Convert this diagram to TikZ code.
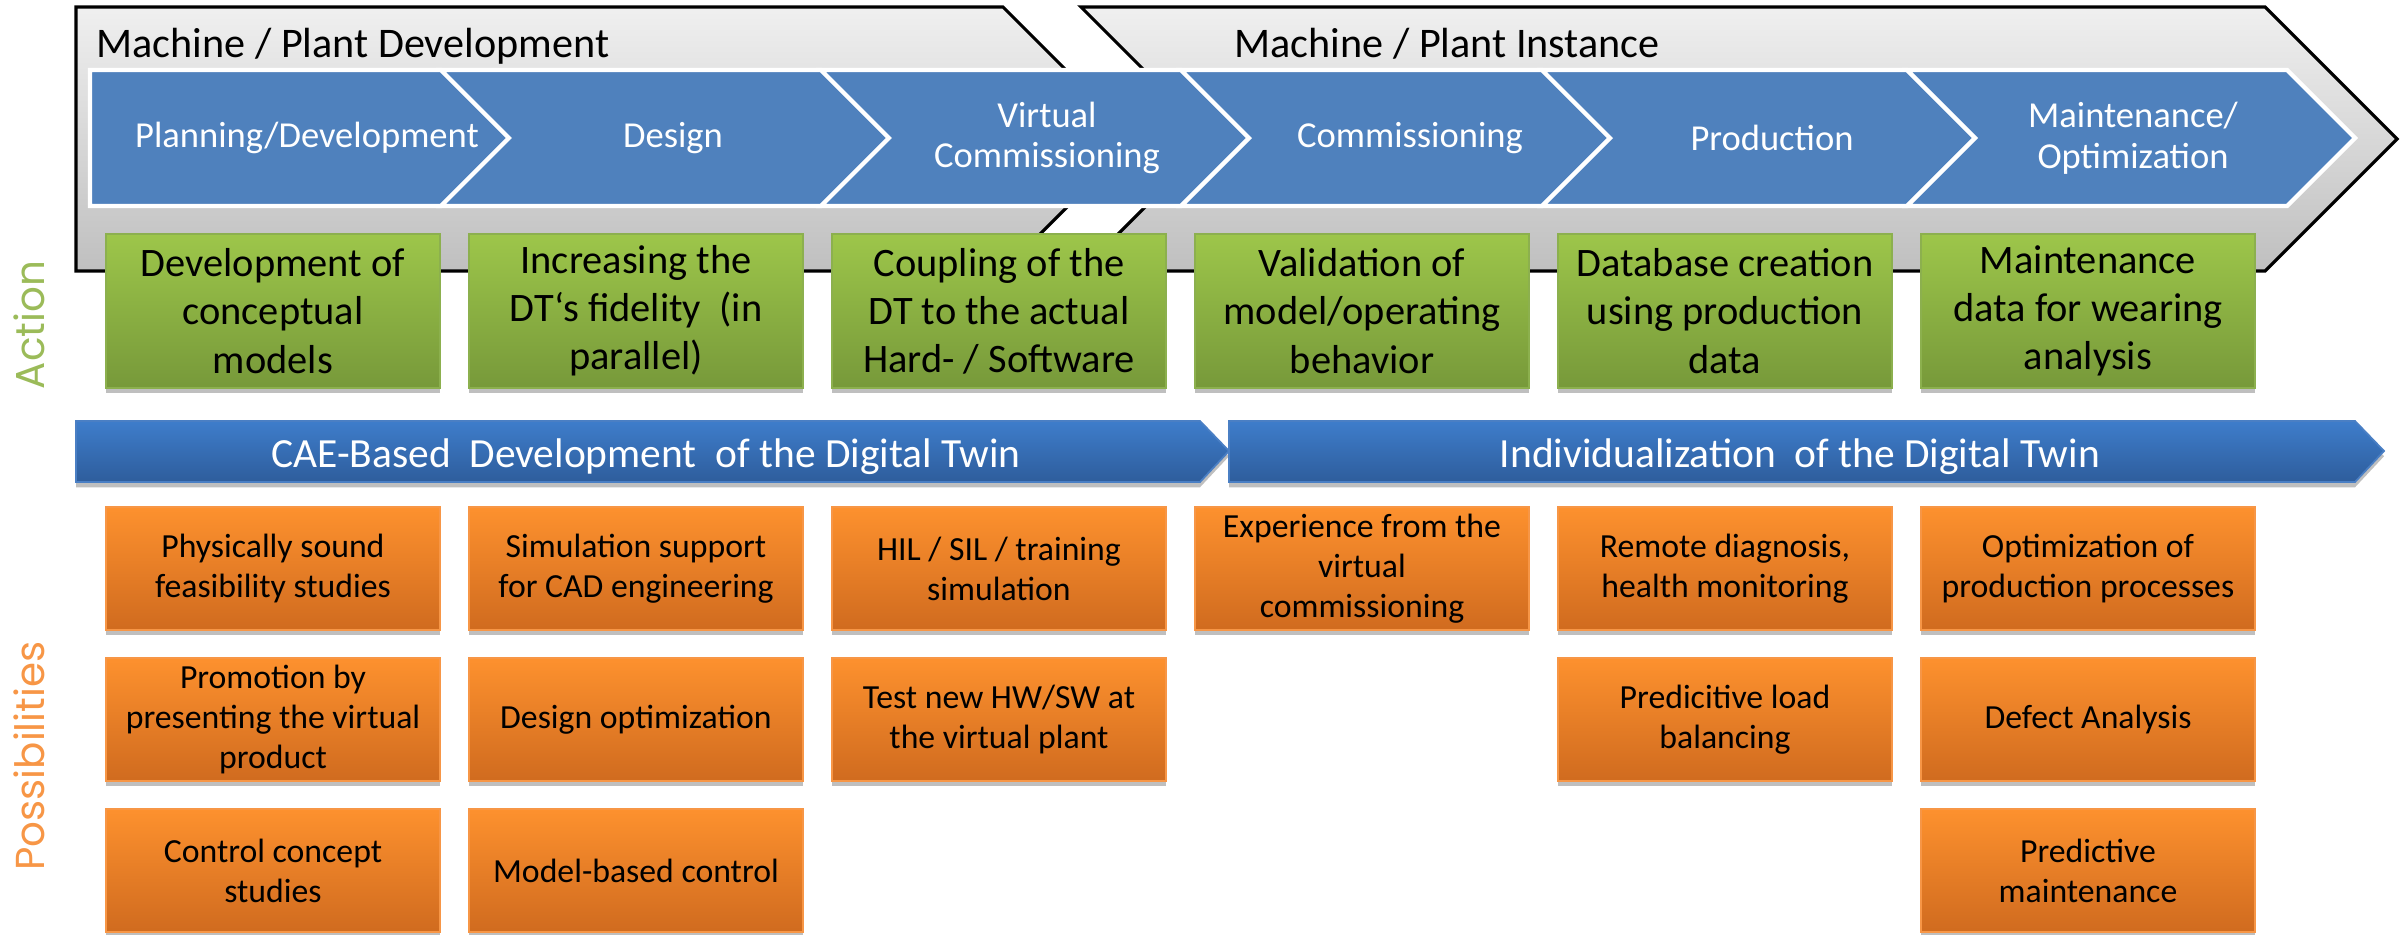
\documentclass[tikz,border=0pt]{standalone}
\usepackage{fontspec}
\setmainfont{Carlito}
\newfontfamily\sidefont{Poppins}
\usepackage{xcolor}
\usetikzlibrary{positioning,shadows}

\definecolor{stageblue}{HTML}{4F81BD}
\definecolor{bartop}{HTML}{3E7DCB}
\definecolor{barbot}{HTML}{2E5D9C}
\definecolor{barline}{HTML}{4A7FC4}
\definecolor{greentop}{HTML}{9DC64A}
\definecolor{greenbot}{HTML}{77993A}
\definecolor{greenline}{HTML}{8CB04E}
\definecolor{orangetop}{HTML}{FD912E}
\definecolor{orangebot}{HTML}{D06B1F}
\definecolor{orangeline}{HTML}{F79646}
\definecolor{actiongreen}{HTML}{9BBB59}
\definecolor{possorange}{HTML}{F79646}

\begin{document}
\begin{tikzpicture}[x=0.1mm, y=-0.1mm,
        phase/.style={
            draw=black,
            line width=0.9pt,
            top color=gray!12,
            bottom color=gray!50
        },
        stage/.style={
            draw=white,
            line width=1.2pt,
            fill=stageblue
        },
        stagelabel/.style={
            text=white,
            align=center,
            inner sep=0pt,
            font=\fontsize{10.4}{11.6}\selectfont
        },
        title/.style={
            anchor=base west,
            inner sep=0pt,
            font=\fontsize{12}{14}\selectfont
        },
        bar/.style={
            draw=barline,
            line width=0.5pt,
            top color=bartop,
            bottom color=barbot,
            drop shadow={shadow xshift=0pt, shadow yshift=-1.5pt, opacity=.25, fill=black}
        },
        barlabel/.style={
            anchor=base,
            text=white,
            inner sep=0pt,
            font=\fontsize{11.8}{14}\selectfont
        },
        action/.style={
            draw=greenline,
            line width=0.6pt,
            top color=greentop,
            bottom color=greenbot,
            minimum width=33.4mm,
            minimum height=15.4mm,
            inner sep=0pt,
            outer sep=0pt,
            align=center,
            font=\fontsize{11.5}{13.7}\selectfont,
            drop shadow={shadow xshift=0pt, shadow yshift=-1.5pt, opacity=.25, fill=black}
        },
        possib/.style={
            action,
            draw=orangeline,
            top color=orangetop,
            bottom color=orangebot,
            minimum height=12.3mm,
            font=\fontsize{9.6}{11.4}\selectfont
        },
        side/.style={
            rotate=90,
            inner sep=0pt,
            font=\sidefont\fontsize{11.5}{13}\selectfont
        }
    ]
        \useasboundingbox (0,0) rectangle (2405,934);

        \path[phase] (76,7) -- (1003,7) -- (1135,139) -- (1003,271) -- (76,271) -- cycle;
        \path[phase] (1081,7) -- (2265,7) -- (2397,139) -- (2265,271) -- (1081,271) -- (1213,139) -- cycle;

        \node[title] (devtitle) at (96,57) {Machine / Plant Development};
        \node[title] (insttitle) at (1234,57) {Machine / Plant Instance};

        \path[stage] (90,70) -- (441,70) -- (509,138) -- (441,206) -- (90,206) -- cycle;
        \path[stage] (441,70) -- (821,70) -- (889,138) -- (821,206) -- (441,206) -- (509,138) -- cycle;
        \path[stage] (821,70) -- (1181,70) -- (1249,138) -- (1181,206) -- (821,206) -- (889,138) -- cycle;
        \path[stage] (1181,70) -- (1542,70) -- (1610,138) -- (1542,206) -- (1181,206) -- (1249,138) -- cycle;
        \path[stage] (1542,70) -- (1907,70) -- (1975,138) -- (1907,206) -- (1542,206) -- (1610,138) -- cycle;
        \path[stage] (1907,70) -- (2287,70) -- (2355,138) -- (2287,206) -- (1907,206) -- (1975,138) -- cycle;

        \node[stagelabel] (planning) at (307,138) {Planning/Development};
        \node[stagelabel] (design) at (673,138) {Design};
        \node[stagelabel] (vc) at (1047,138) {Virtual\\Commissioning};
        \node[stagelabel] (commissioning) at (1410,138) {Commissioning};
        \node[stagelabel] (production) at (1772,138) {Production};
        \node[stagelabel] (maintenance) at (2133,138) {Maintenance/\\Optimization};

        \node[action, anchor=north west] (concept) at (106,234) {Development of\\conceptual\\models};
        \node[action, right=2.9mm of concept] (fidelity) {Increasing the\\DT‘s fidelity\ \ (in\\parallel)};
        \node[action, right=2.9mm of fidelity] (coupling) {Coupling of the\\DT to the actual\\Hard- / Software};
        \node[action, right=2.9mm of coupling] (validation) {Validation of\\model/operating\\behavior};
        \node[action, right=2.9mm of validation] (database) {Database creation\\using production\\data};
        \node[action, right=2.9mm of database] (wearing) {Maintenance\\data for wearing\\analysis};

        \path[bar] (76,421) -- (1200,421) -- (1229,451) -- (1200,482) -- (76,482) -- cycle;
        \path[bar] (1229,421) -- (2355,421) -- (2384,451) -- (2355,482) -- (1229,482) -- cycle;
        \node[barlabel] (cae) at (646,467) {CAE-Based\ \ Development\ \ of the Digital Twin};
        \node[barlabel] (indiv) at (1800,467) {Individualization\ \ of the Digital Twin};

        \node[possib, anchor=north west] (feasibility) at (106,507) {Physically sound\\feasibility studies};
        \node[possib, below=2.8mm of feasibility] (promotion) {Promotion by\\presenting the virtual\\product};
        \node[possib, below=2.8mm of promotion] (controlstudy) {Control concept\\studies};

        \node[possib, right=2.9mm of feasibility] (cadsupport) {Simulation support\\for CAD engineering};
        \node[possib, below=2.8mm of cadsupport] (designopt) {Design optimization};
        \node[possib, below=2.8mm of designopt] (modelctrl) {Model-based control};

        \node[possib, right=2.9mm of cadsupport] (hilsil) {HIL / SIL / training\\simulation};
        \node[possib, below=2.8mm of hilsil] (testhw) {Test new HW/SW at\\the virtual plant};

        \node[possib, right=2.9mm of hilsil] (experience) {Experience from the\\virtual\\commissioning};

        \node[possib, right=2.9mm of experience] (remote) {Remote diagnosis,\\health monitoring};
        \node[possib, below=2.8mm of remote] (loadbal) {Predicitive load\\balancing};

        \node[possib, right=2.9mm of remote] (optprod) {Optimization of\\production processes};
        \node[possib, below=2.8mm of optprod] (defect) {Defect Analysis};
        \node[possib, below=2.8mm of defect] (predmaint) {Predictive\\maintenance};

        \node[side, text=actiongreen] (actionlabel) at (29,325) {Action};
        \node[side, text=possorange] (posslabel) at (29,756) {Possibilities};
    \end{tikzpicture}
\end{document}
